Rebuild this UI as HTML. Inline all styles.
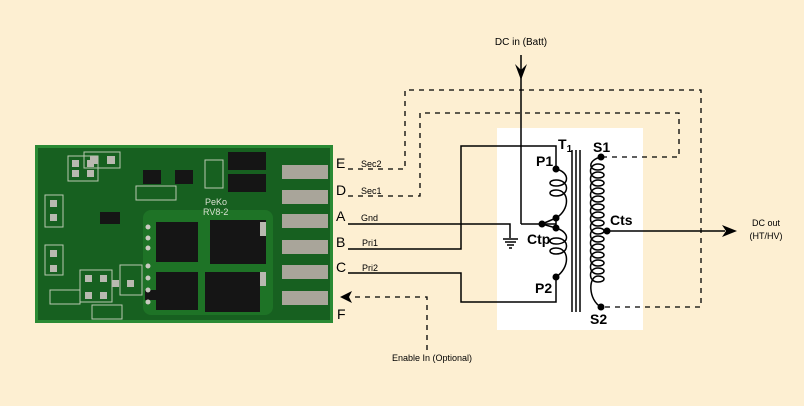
<!DOCTYPE html>
<html><head><meta charset="utf-8"><style>
html,body{margin:0;padding:0;background:#fdefd2;}
svg{display:block;font-family:"Liberation Sans",Arial,sans-serif;}
</style></head><body>
<svg width="804" height="406" viewBox="0 0 804 406" xmlns="http://www.w3.org/2000/svg">
<rect width="804" height="406" fill="#fdefd2"/>
<!-- board -->
<rect x="35" y="145" width="298" height="178" fill="#2a8a34"/>
<rect x="38" y="148" width="292" height="172" fill="#176020"/>
<rect x="143" y="210" width="130" height="105" rx="8" fill="#1e7326"/>
<g fill="none" stroke="#b8c8b0" stroke-width="1">
<rect x="68" y="156" width="30" height="25"/>
<rect x="84" y="152" width="36" height="16"/>
<rect x="45" y="195" width="18" height="32"/>
<rect x="45" y="245" width="18" height="30"/>
<rect x="80" y="270" width="32" height="32"/>
<rect x="120" y="265" width="22" height="30"/>
<rect x="50" y="290" width="30" height="14"/>
<rect x="92" y="305" width="30" height="14"/>
<rect x="136" y="186" width="40" height="14"/>
<rect x="205" y="160" width="18" height="28"/>
</g>
<!-- pads -->
<g fill="#a9a59a">
<rect x="282" y="165" width="46" height="14"/>
<rect x="282" y="190" width="46" height="14"/>
<rect x="282" y="214" width="46" height="14"/>
<rect x="282" y="240" width="46" height="14"/>
<rect x="282" y="265" width="46" height="14"/>
<rect x="282" y="291" width="46" height="14"/>
</g>
<g fill="#151515">
<rect x="228" y="152" width="38" height="18"/>
<rect x="228" y="174" width="38" height="18"/>
<rect x="156" y="222" width="42" height="40"/>
<rect x="210" y="220" width="56" height="44"/>
<rect x="156" y="272" width="42" height="38"/>
<rect x="205" y="272" width="55" height="40"/>
<rect x="175" y="170" width="18" height="14"/>
<rect x="143" y="170" width="18" height="14"/>
<rect x="100" y="212" width="20" height="12"/>
<rect x="145" y="290" width="28" height="10"/>
</g>
<g fill="#b9b9b0">
<rect x="72" y="160" width="7" height="7"/><rect x="87" y="160" width="7" height="7"/>
<rect x="72" y="170" width="7" height="7"/><rect x="87" y="170" width="7" height="7"/>
<rect x="90" y="156" width="8" height="8"/><rect x="107" y="156" width="8" height="8"/>
<rect x="50" y="200" width="7" height="7"/><rect x="50" y="214" width="7" height="7"/>
<rect x="50" y="250" width="7" height="7"/><rect x="50" y="265" width="7" height="7"/>
<rect x="85" y="275" width="7" height="7"/><rect x="100" y="275" width="7" height="7"/>
<rect x="85" y="292" width="7" height="7"/><rect x="100" y="292" width="7" height="7"/>
<rect x="112" y="280" width="7" height="7"/><rect x="127" y="280" width="7" height="7"/>
<rect x="260" y="222" width="6" height="14"/><rect x="260" y="272" width="6" height="14"/>
</g>
<g fill="#c9c9c0">
<circle cx="148" cy="227" r="2.5"/><circle cx="148" cy="238" r="2.5"/><circle cx="148" cy="248" r="2.5"/>
<circle cx="148" cy="266" r="2.5"/><circle cx="148" cy="278" r="2.5"/><circle cx="148" cy="290" r="2.5"/><circle cx="148" cy="302" r="2.5"/>
</g>
<text x="205" y="205" font-size="9" fill="#d8e0d0">PeKo</text>
<text x="203" y="215" font-size="9" fill="#d8e0d0">RV8-2</text>

<g font-size="14" fill="#000">
<text x="336" y="168">E</text><text x="336" y="195">D</text>
<text x="336" y="221">A</text><text x="336" y="247">B</text>
<text x="336" y="272">C</text><text x="337" y="319">F</text>
</g>
<g font-size="9" fill="#000">
<text x="361" y="167">Sec2</text><text x="361" y="194">Sec1</text>
<text x="361" y="221">Gnd</text><text x="362" y="246">Pri1</text>
<text x="362" y="271">Pri2</text>
<text x="521" y="45" text-anchor="middle" font-size="10">DC in (Batt)</text>
<text x="432" y="361" text-anchor="middle">Enable In (Optional)</text>
<text x="766" y="226" text-anchor="middle">DC out</text>
<text x="766" y="239" text-anchor="middle">(HT/HV)</text>
</g>
<rect x="497" y="128" width="146" height="202" fill="#fff"/>
<g fill="none" stroke="#000" stroke-width="1.3" stroke-dasharray="5,5">
<polyline points="348,169 405,169 405,90 701,90 701,307 603,307"/>
<polyline points="348,196 420,196 420,113 679,113 679,157 603,157"/>
<polyline points="427,350 427,297 352,297"/>
</g>
<g fill="none" stroke="#000" stroke-width="1.5">
<line x1="521" y1="55" x2="521" y2="224"/>
<polyline points="521,224 556,224"/>
<polyline points="348,249 461,249 461,146 556,146 556,169"/>
<polyline points="348,224 510,224 510,238"/>
<polyline points="348,273 461,273 461,302 556,302 556,277"/>
<line x1="607" y1="231" x2="725" y2="231"/>
<line x1="503" y1="239" x2="518" y2="239"/>
<line x1="505" y1="242" x2="516" y2="242"/>
<line x1="507" y1="245" x2="514" y2="245"/>
<line x1="509" y1="248" x2="512" y2="248"/>
<line x1="572" y1="150" x2="572" y2="312"/>
<line x1="576" y1="150" x2="576" y2="312"/>
<line x1="580" y1="150" x2="580" y2="312"/>
<path d="M556,169 C570,172 570,186 556,186 C548,186 548,180 556,180 C570,180 570,196 556,196 C548,196 548,190 556,190 C570,190 570,210 556,218"/>
<path d="M556,228 C570,232 570,244 556,244 C548,244 548,238 556,238 C570,238 570,254 556,254 C548,254 548,248 556,248 C570,248 570,268 556,277"/>
<path d="M601,157 C588,160 588,170 598,170 C606,170 606,164 598,164 C588,164 588,178 598,178 C606,178 606,172 598,172 C588,172 588,186 598,186 C606,186 606,180 598,180 C588,180 588,194 598,194 C606,194 606,188 598,188 C588,188 588,202 598,202 C606,202 606,196 598,196 C588,196 588,210 598,210 C606,210 606,204 598,204 C588,204 588,218 598,218 C606,218 606,212 598,212 C588,212 588,226 598,226 C606,226 606,220 598,220 C588,220 588,234 598,234 C606,234 606,228 598,228 C588,228 588,242 598,242 C606,242 606,236 598,236 C588,236 588,250 598,250 C606,250 606,244 598,244 C588,244 588,258 598,258 C606,258 606,252 598,252 C588,252 588,266 598,266 C606,266 606,260 598,260 C588,260 588,274 598,274 C606,274 606,268 598,268 C588,268 588,282 598,282 C606,282 606,276 598,276 C588,276 588,300 601,307"/>
<line x1="556" y1="218" x2="556" y2="228"/>
<line x1="542" y1="224" x2="556" y2="218"/>
<line x1="542" y1="224" x2="556" y2="228"/>
</g>
<g fill="#000">
<circle cx="556" cy="169" r="3.5"/><circle cx="556" cy="218" r="3.5"/><circle cx="556" cy="228" r="3.5"/>
<circle cx="542" cy="224" r="3.5"/><circle cx="556" cy="277" r="3.5"/>
<circle cx="601" cy="157" r="3.5"/><circle cx="601" cy="307" r="3.5"/><circle cx="607" cy="231" r="3.5"/>
<polygon points="521,80 515,64 521,70 527,64"/>
<polygon points="737,231 722,225 726,231 722,237"/>
<polygon points="340,297 352,291 349,297 352,303"/>
</g>
<g font-size="14" font-weight="bold" fill="#000">
<text x="558" y="149">T<tspan font-size="10" dy="3">1</tspan></text>
<text x="536" y="166">P1</text>
<text x="593" y="152">S1</text>
<text x="610" y="225">Cts</text>
<text x="527" y="244">Ctp</text>
<text x="535" y="293">P2</text>
<text x="590" y="324">S2</text>
</g>
</svg>
</body></html>
